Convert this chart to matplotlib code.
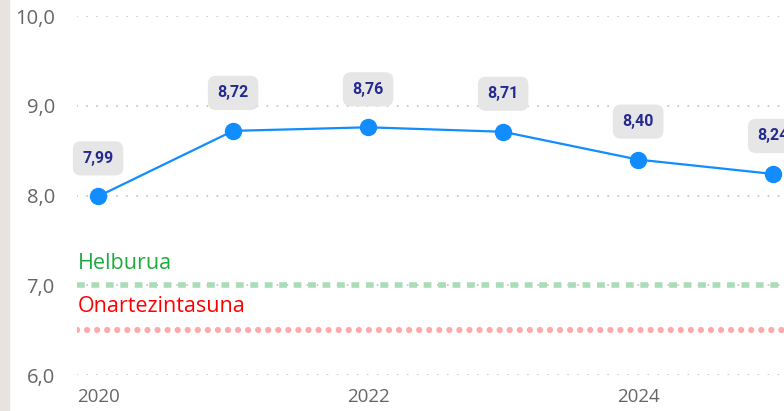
import matplotlib.pyplot as plt
from matplotlib.patches import Rectangle

# datuak
years = [2020, 2021, 2022, 2023, 2024, 2025]
values = [7.99, 8.72, 8.76, 8.71, 8.40, 8.24]
labels = ['7,99', '8,72', '8,76', '8,71', '8,40', '8,24']
target = 7.0
tolerance = 6.5
y_ticks = [6, 7, 8, 9, 10]
y_tick_labels = ['6,0', '7,0', '8,0', '9,0', '10,0']
x_ticks = [2020, 2022, 2024]

plt.rcParams['font.family'] = ['Open Sans', 'DejaVu Sans']

fig = plt.figure(figsize=(7.84, 4.11), dpi=100)
fig.patches.append(Rectangle((0, 0), 9 / 784, 1, transform=fig.transFigure,
                             color='#e7e3de', zorder=0))

ax = fig.add_axes([77 / 784, 36 / 411, 707 / 784, 359 / 411])
ax.set_xlim(2019.844, 2025.08)
ax.set_ylim(6, 10)

for s in ax.spines.values():
    s.set_visible(False)

# grid
for y in y_ticks:
    ax.axhline(y, color='#c8c8c8', lw=1.5, ls=(0, (0.01, 4.8)),
               dash_capstyle='round', zorder=1)

# helburua / onartezintasuna
ax.axhline(target, color='#a9dcb7', lw=4, ls=(0, (1.4, 1.2)), zorder=2)
ax.axhline(tolerance, color='#ffaaaa', lw=4.5, ls=(0, (0.01, 1.6)),
           dash_capstyle='round', zorder=2)
ax.text(2019.85, target + 0.13, 'Helburua', color='#1faa3f', fontsize=15.5,
        va='bottom', ha='left')
ax.text(2019.85, target - 0.12, 'Onartezintasuna', color='#ff0000', fontsize=15.5,
        va='top', ha='left')

ax.plot(years, values, color='#118dff', lw=1.6, marker='o', ms=11.5,
        zorder=4, clip_on=False)

for x, v, t in zip(years, values, labels):
    ax.annotate(t, (x, v), xytext=(0, 38), textcoords='offset pixels',
                ha='center', va='center', fontsize=11.5, fontweight='bold',
                color='#252a8f', family=['Roboto', 'DejaVu Sans'],
                bbox=dict(boxstyle='round,pad=0.6,rounding_size=0.5',
                          fc='#e6e6e6', ec='none'), annotation_clip=False)

ax.set_yticks(y_ticks)
ax.set_yticklabels(y_tick_labels)
ax.set_xticks(x_ticks)
ax.set_xticklabels([str(x) for x in x_ticks])
ax.tick_params(axis='y', length=0, pad=16, labelsize=14.5, labelcolor='#666666')
ax.tick_params(axis='x', length=0, pad=9, labelsize=13.5, labelcolor='#666666')

fig.savefig('out.png', dpi=100)
